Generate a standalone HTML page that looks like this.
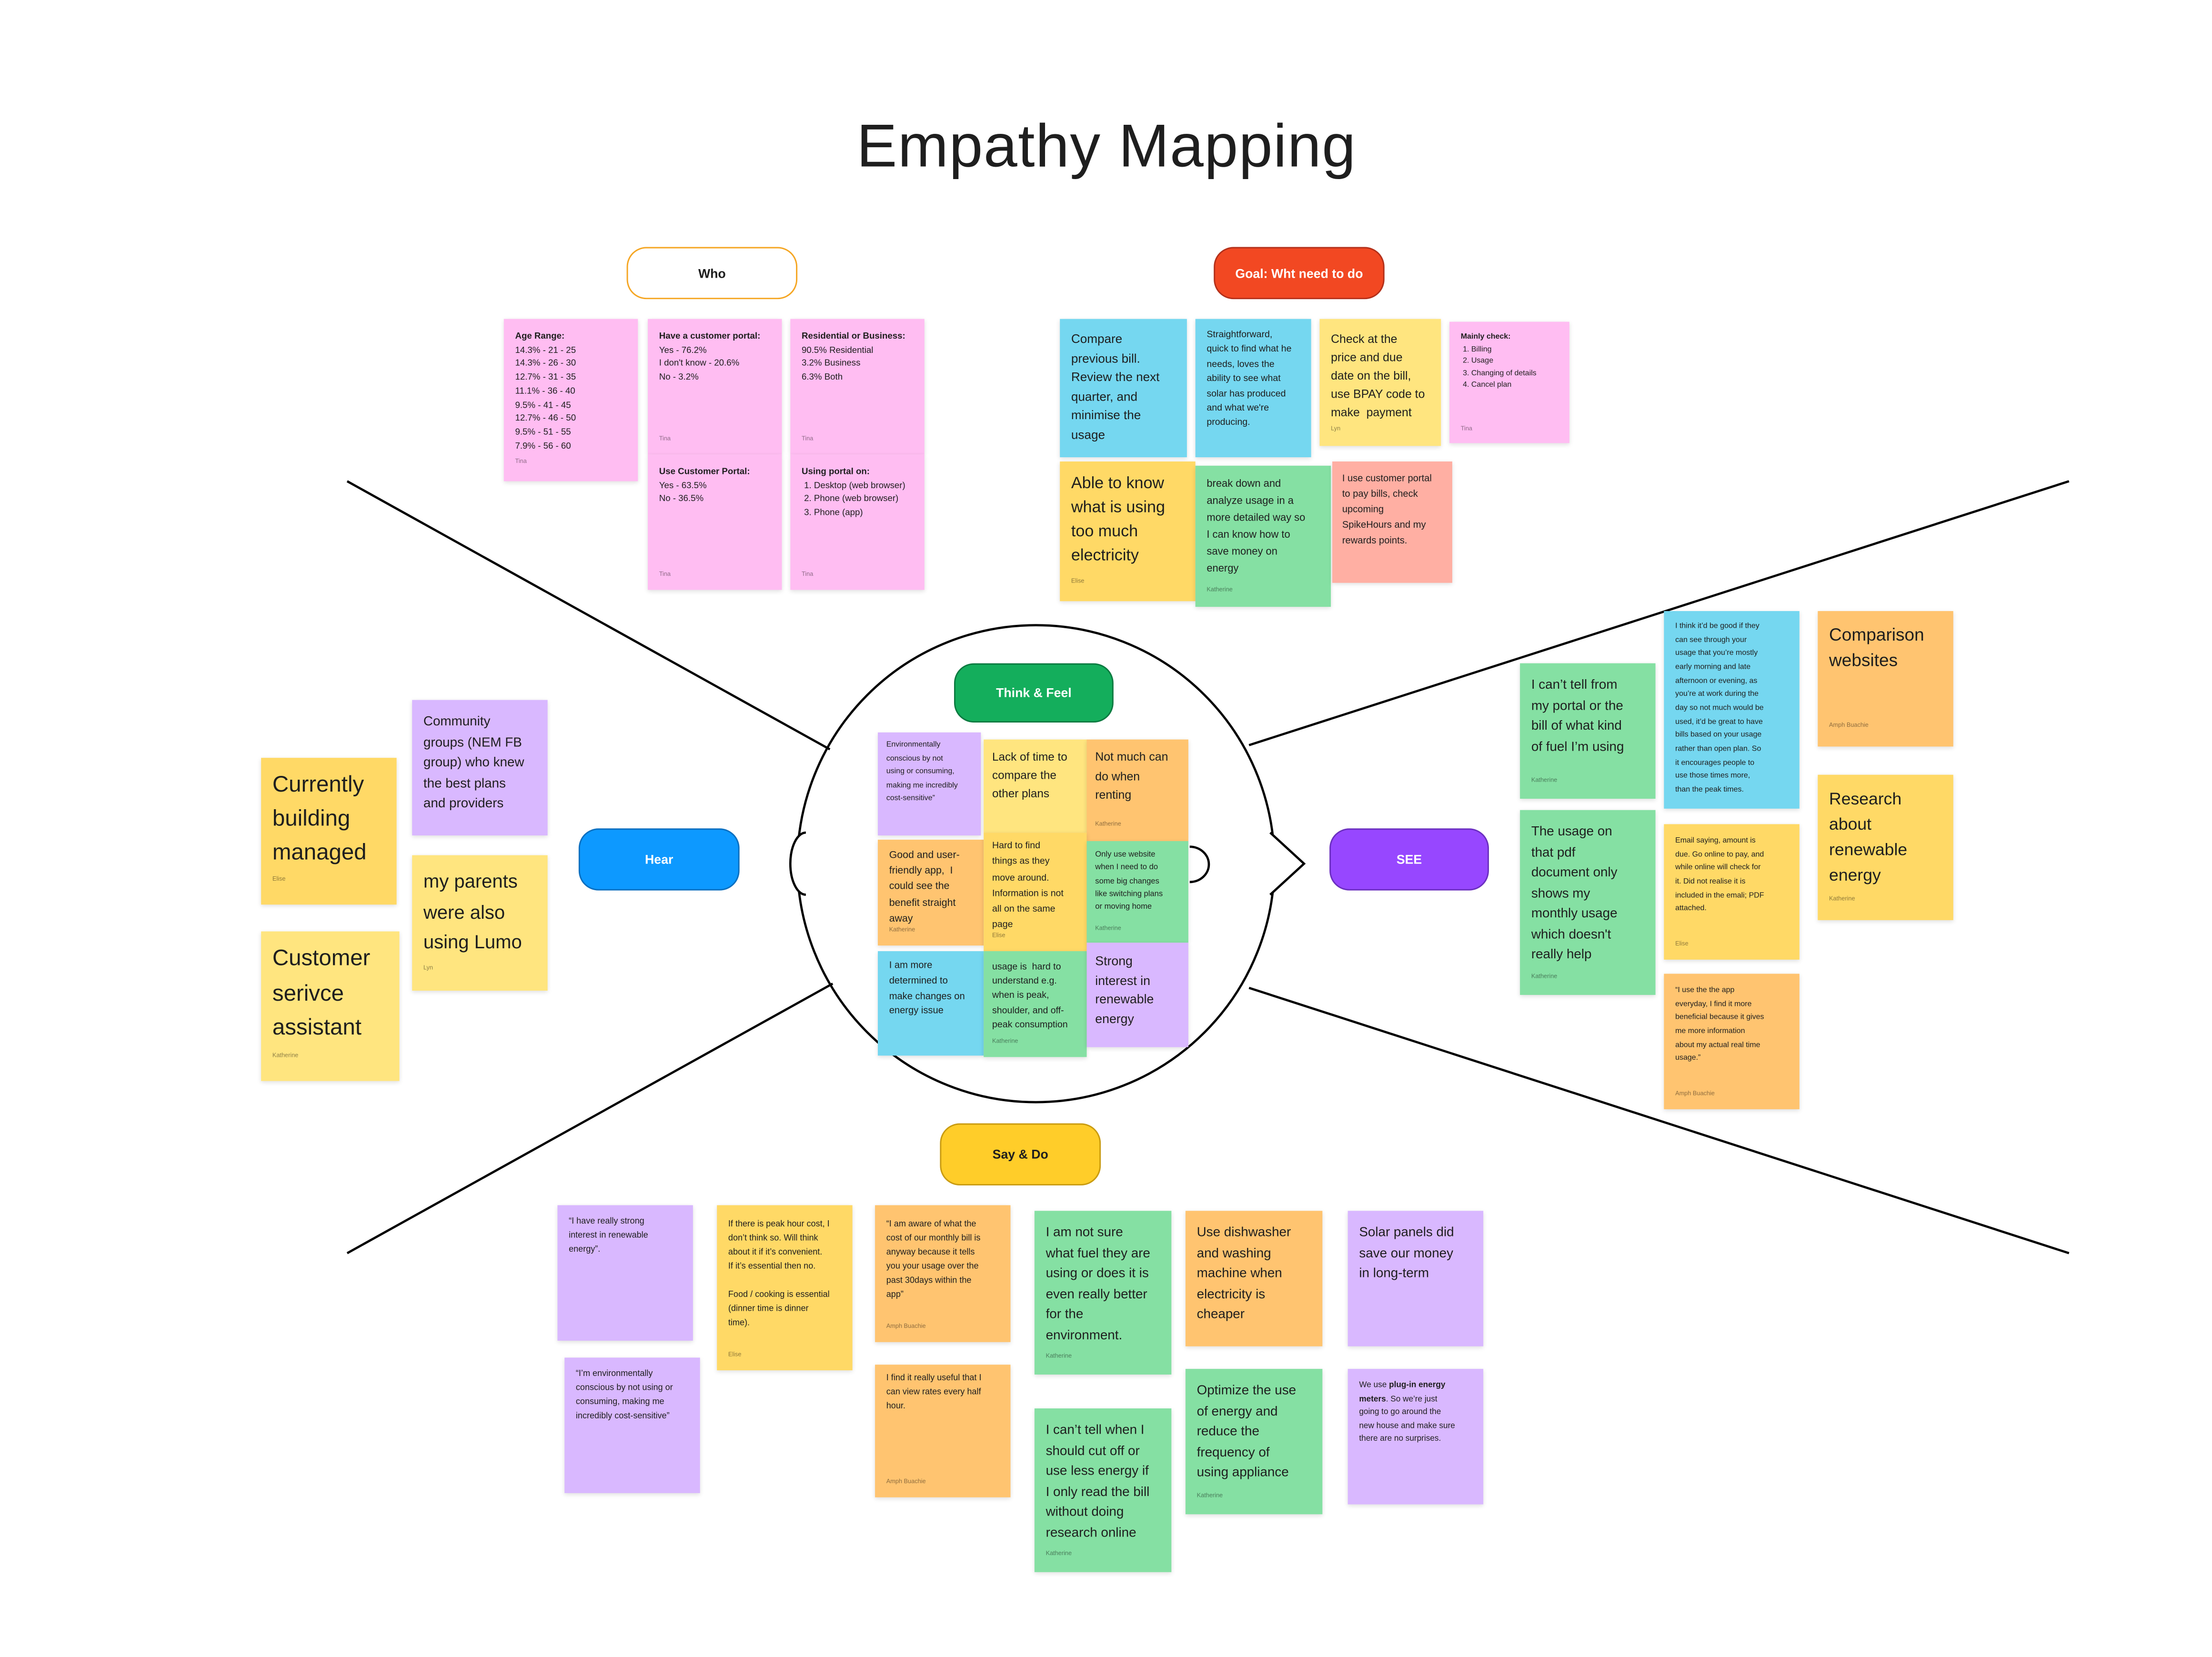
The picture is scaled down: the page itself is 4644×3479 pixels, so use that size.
<!DOCTYPE html>
<html><head><meta charset="utf-8">
<style>
html,body{margin:0;padding:0;background:#fff;}
body{width:4644px;height:3477px;overflow:hidden;}
#w{position:absolute;left:0;top:0;width:1568px;height:1174px;transform:scale(2.963);transform-origin:0 0;font-family:"Liberation Sans",sans-serif;color:#1e1e1e;}
.n{position:absolute;box-sizing:border-box;padding:9px 8px;box-shadow:0 1px 3px rgba(0,0,0,.13);overflow:hidden;}
.a{position:absolute;left:8px;bottom:6px;font-size:4.3px;color:rgba(0,0,0,.45);}
.pk{background:#ffbdf2}.bl{background:#75d7f0}.ly{background:#ffe57f}.yl{background:#ffd966}.or{background:#ffc470}.gr{background:#85e0a3}.pu{background:#d9b8ff}.sa{background:#ffafa3}
.pill{position:absolute;box-sizing:border-box;border-radius:14px;display:flex;align-items:center;justify-content:center;font-weight:bold;font-size:9px;}
b{font-weight:bold}
</style></head><body><div id="w">
<div style="position:absolute;left:0;width:1568px;top:80px;text-align:center;font-size:43px;letter-spacing:0.5px;">Empathy Mapping</div>
<svg width="1548" height="1159" style="position:absolute;left:0;top:0">
<g stroke="#000" stroke-width="1.6" fill="none">
<line x1="246" y1="341" x2="588" y2="531"/>
<line x1="246" y1="888" x2="590" y2="697"/>
<line x1="1466" y1="341" x2="885" y2="528"/>
<line x1="1466" y1="888" x2="885" y2="700"/>
<circle cx="734" cy="612" r="169"/>
<path d="M571 590 A11 22 0 0 0 571 634" fill="#fff"/>
<path d="M843 600 A13 12 0 0 1 843 625"/>
<path d="M900 590 L924 612 L900 634" fill="#fff"/>
</g>
</svg>
<div class="pill" style="left:444px;top:175px;width:121px;height:37px;background:#fff;border:1.5px solid #f5a623;">Who</div>
<div class="pill" style="left:860px;top:175px;width:121px;height:37px;background:#f24822;color:#fff;border:1px solid #b3301a;">Goal: Wht need to do</div>
<div class="pill" style="left:676px;top:470px;width:113px;height:42px;background:#14ae5c;color:#fff;border:1px solid #0b7a40;">Think &amp; Feel</div>
<div class="pill" style="left:410px;top:587px;width:114px;height:44px;background:#0d99ff;color:#fff;border:1px solid #0a6fc0;">Hear</div>
<div class="pill" style="left:942px;top:587px;width:113px;height:44px;background:#9747ff;color:#fff;border:1px solid #6b2fc0;">SEE</div>
<div class="pill" style="left:666px;top:796px;width:114px;height:44px;background:#ffcd29;border:1px solid #c99b10;">Say &amp; Do</div>

<!-- Who -->
<div class="n pk" style="left:357px;top:226px;width:95px;height:115px;font-size:6.3px;line-height:9.7px;padding-top:8px"><b>Age Range:</b><br>14.3% - 21 - 25<br>14.3% - 26 - 30<br>12.7% - 31 - 35<br>11.1% - 36 - 40<br>9.5% - 41 - 45<br>12.7% - 46 - 50<br>9.5% - 51 - 55<br>7.9% - 56 - 60<div class="a" style="bottom:9px">Tina</div></div>
<div class="n pk" style="left:459px;top:226px;width:95px;height:96px;font-size:6.3px;line-height:9.7px;padding-top:8px"><b>Have a customer portal:</b><br>Yes - 76.2%<br>I don't know - 20.6%<br>No - 3.2%<div class="a">Tina</div></div>
<div class="n pk" style="left:459px;top:322px;width:95px;height:96px;font-size:6.3px;line-height:9.7px;padding-top:8px"><b>Use Customer Portal:</b><br>Yes - 63.5%<br>No - 36.5%<div class="a">Tina</div></div>
<div class="n pk" style="left:560px;top:226px;width:95px;height:96px;font-size:6.3px;line-height:9.7px;padding-top:8px"><b>Residential or Business:</b><br>90.5% Residential<br>3.2% Business<br>6.3% Both<div class="a">Tina</div></div>
<div class="n pk" style="left:560px;top:322px;width:95px;height:96px;font-size:6.3px;line-height:9.7px;padding-top:8px"><b>Using portal on:</b><br>&nbsp;1. Desktop (web browser)<br>&nbsp;2. Phone (web browser)<br>&nbsp;3. Phone (app)<div class="a">Tina</div></div>

<!-- Goal -->
<div class="n bl" style="left:751px;top:226px;width:90px;height:98px;font-size:8.8px;line-height:13.6px;padding-top:8px">Compare<br>previous bill.<br>Review the next<br>quarter, and<br>minimise the<br>usage</div>
<div class="n bl" style="left:847px;top:226px;width:82px;height:98px;font-size:6.6px;line-height:10.4px;padding-top:7px">Straightforward,<br>quick to find what he<br>needs, loves the<br>ability to see what<br>solar has produced<br>and what we're<br>producing.</div>
<div class="n ly" style="left:935px;top:226px;width:86px;height:90px;font-size:8.4px;line-height:13px;padding-top:8px">Check at the<br>price and due<br>date on the bill,<br>use BPAY code to<br>make&nbsp; payment<div class="a">Lyn</div></div>
<div class="n pk" style="left:1027px;top:228px;width:85px;height:86px;font-size:5.4px;line-height:8.5px;padding-top:7px"><b>Mainly check:</b><br>&nbsp;1. Billing<br>&nbsp;2. Usage<br>&nbsp;3. Changing of details<br>&nbsp;4. Cancel plan<div class="a">Tina</div></div>
<div class="n yl" style="left:751px;top:327px;width:96px;height:99px;font-size:11.5px;line-height:17px;padding-top:8px">Able to know<br>what is using<br>too much<br>electricity<div class="a">Elise</div></div>
<div class="n gr" style="left:847px;top:330px;width:96px;height:100px;font-size:7.4px;line-height:12px;padding-top:7px">break down and<br>analyze usage in a<br>more detailed way so<br>I can know how to<br>save money on<br>energy<div class="a">Katherine</div></div>
<div class="n sa" style="left:944px;top:327px;width:85px;height:86px;font-size:6.8px;line-height:10.9px;padding-top:8px;padding-left:7px">I use customer portal<br>to pay bills, check<br>upcoming<br>SpikeHours and my<br>rewards points.</div>

<!-- Think & Feel -->
<div class="n pu" style="left:622px;top:519px;width:73px;height:73px;font-size:5.4px;line-height:9.6px;padding:5px 6px">Environmentally<br>conscious by not<br>using or consuming,<br>making me incredibly<br>cost-sensitive”</div>
<div class="n ly" style="left:697px;top:524px;width:73px;height:66px;font-size:8.2px;line-height:13px;padding:6px 6px">Lack of time to<br>compare the<br>other plans</div>
<div class="n or" style="left:770px;top:524px;width:72px;height:72px;font-size:8.4px;line-height:13.5px;padding:6px 6px">Not much can<br>do when<br>renting<div class="a" style="left:6px">Katherine</div></div>
<div class="n or" style="left:622px;top:595px;width:75px;height:75px;font-size:7.2px;line-height:11.2px;padding:5px 8px">Good and user-<br>friendly app,&nbsp; I<br>could see the<br>benefit straight<br>away<div class="a">Katherine</div></div>
<div class="n yl" style="left:697px;top:590px;width:73px;height:84px;font-size:6.6px;line-height:11.3px;padding:4px 6px">Hard to find<br>things as they<br>move around.<br>Information is not<br>all on the same<br>page<div class="a" style="left:6px">Elise</div></div>
<div class="n gr" style="left:770px;top:596px;width:72px;height:72px;font-size:5.6px;line-height:9.3px;padding:6px 6px">Only use website<br>when I need to do<br>some big changes<br>like switching plans<br>or moving home<div class="a" style="left:6px">Katherine</div></div>
<div class="n bl" style="left:622px;top:674px;width:75px;height:74px;font-size:6.8px;line-height:10.8px;padding:6px 8px">I am more<br>determined to<br>make changes on<br>energy issue</div>
<div class="n gr" style="left:697px;top:674px;width:73px;height:75px;font-size:6.6px;line-height:10.2px;padding:7px 6px">usage is&nbsp; hard to<br>understand e.g.<br>when is peak,<br>shoulder, and off-<br>peak consumption<div class="a" style="left:6px">Katherine</div></div>
<div class="n pu" style="left:770px;top:668px;width:72px;height:74px;font-size:9px;line-height:13.5px;padding:7px 6px">Strong<br>interest in<br>renewable<br>energy</div>

<!-- Hear -->
<div class="n pu" style="left:292px;top:496px;width:96px;height:96px;font-size:9.4px;line-height:14.5px;padding-top:8px">Community<br>groups (NEM FB<br>group) who knew<br>the best plans<br>and providers</div>
<div class="n yl" style="left:185px;top:537px;width:96px;height:104px;font-size:16px;line-height:24px;padding-top:8px">Currently<br>building<br>managed<div class="a">Elise</div></div>
<div class="n ly" style="left:292px;top:606px;width:96px;height:96px;font-size:13.5px;line-height:21.5px;padding-top:8px">my parents<br>were also<br>using Lumo<div class="a">Lyn</div></div>
<div class="n ly" style="left:185px;top:660px;width:98px;height:106px;font-size:16px;line-height:24.5px;padding-top:8px">Customer<br>serivce<br>assistant<div class="a">Katherine</div></div>

<!-- SEE -->
<div class="n gr" style="left:1077px;top:470px;width:96px;height:96px;font-size:9.4px;line-height:14.5px;padding-top:8px">I can’t tell from<br>my portal or the<br>bill of what kind<br>of fuel I’m using<div class="a">Katherine</div></div>
<div class="n gr" style="left:1077px;top:574px;width:96px;height:131px;font-size:9.4px;line-height:14.5px;padding-top:8px">The usage on<br>that pdf<br>document only<br>shows my<br>monthly usage<br>which doesn't<br>really help<div class="a">Katherine</div></div>
<div class="n bl" style="left:1179px;top:433px;width:96px;height:140px;font-size:5.4px;line-height:9.65px;padding-top:7px">I think it’d be good if they<br>can see through your<br>usage that you’re mostly<br>early morning and late<br>afternoon or evening, as<br>you’re at work during the<br>day so not much would be<br>used, it’d be great to have<br>bills based on your usage<br>rather than open plan. So<br>it encourages people to<br>use those times more,<br>than the peak times.</div>
<div class="n yl" style="left:1179px;top:584px;width:96px;height:96px;font-size:5.4px;line-height:9.65px;padding-top:8px">Email saying, amount is<br>due. Go online to pay, and<br>while online will check for<br>it. Did not realise it is<br>included in the emali; PDF<br>attached.<div class="a">Elise</div></div>
<div class="n or" style="left:1179px;top:690px;width:96px;height:96px;font-size:5.4px;line-height:9.65px;padding-top:8px">“I use the the app<br>everyday, I find it more<br>beneficial because it gives<br>me more information<br>about my actual real time<br>usage.”<div class="a">Amph Buachie</div></div>
<div class="n or" style="left:1288px;top:433px;width:96px;height:96px;font-size:12.5px;line-height:18px;padding-top:8px">Comparison<br>websites<div class="a">Amph Buachie</div></div>
<div class="n yl" style="left:1288px;top:549px;width:96px;height:103px;font-size:12px;line-height:18px;padding-top:8px">Research<br>about<br>renewable<br>energy<div class="a">Katherine</div></div>

<!-- Say & Do -->
<div class="n pu" style="left:395px;top:854px;width:96px;height:96px;font-size:6.1px;line-height:10px;padding-top:7px">“I have really strong<br>interest in renewable<br>energy”.</div>
<div class="n pu" style="left:400px;top:962px;width:96px;height:96px;font-size:6.1px;line-height:10px;padding-top:7px">“I’m environmentally<br>conscious by not using or<br>consuming, making me<br>incredibly cost-sensitive”</div>
<div class="n yl" style="left:508px;top:854px;width:96px;height:117px;font-size:6.1px;line-height:10px;padding-top:9px">If there is peak hour cost, I<br>don’t think so. Will think<br>about it if it’s convenient.<br>If it’s essential then no.<br><br>Food / cooking is essential<br>(dinner time is dinner<br>time).<div class="a">Elise</div></div>
<div class="n or" style="left:620px;top:854px;width:96px;height:97px;font-size:6.1px;line-height:10px;padding-top:9px">“I am aware of what the<br>cost of our monthly bill is<br>anyway because it tells<br>you your usage over the<br>past 30days within the<br>app”<div class="a">Amph Buachie</div></div>
<div class="n or" style="left:620px;top:967px;width:96px;height:94px;font-size:6.1px;line-height:10px;padding-top:5px">I find it really useful that I<br>can view rates every half<br>hour.<div class="a">Amph Buachie</div></div>
<div class="n gr" style="left:733px;top:858px;width:97px;height:116px;font-size:9.4px;line-height:14.5px;padding-top:8px">I am not sure<br>what fuel they are<br>using or does it is<br>even really better<br>for the<br>environment.<div class="a">Katherine</div></div>
<div class="n gr" style="left:733px;top:998px;width:97px;height:116px;font-size:9.4px;line-height:14.5px;padding-top:8px">I can’t tell when I<br>should cut off or<br>use less energy if<br>I only read the bill<br>without doing<br>research online<div class="a">Katherine</div></div>
<div class="n or" style="left:840px;top:858px;width:97px;height:96px;font-size:9.4px;line-height:14.5px;padding-top:8px">Use dishwasher<br>and washing<br>machine when<br>electricity is<br>cheaper</div>
<div class="n gr" style="left:840px;top:970px;width:97px;height:103px;font-size:9.4px;line-height:14.5px;padding-top:8px">Optimize the use<br>of energy and<br>reduce the<br>frequency of<br>using appliance<div class="a">Katherine</div></div>
<div class="n pu" style="left:955px;top:858px;width:96px;height:96px;font-size:9.4px;line-height:14.5px;padding-top:8px">Solar panels did<br>save our money<br>in long-term</div>
<div class="n pu" style="left:955px;top:970px;width:96px;height:96px;font-size:5.8px;line-height:9.6px;padding-top:8px">We use <b>plug-in energy<br>meters</b>. So we’re just<br>going to go around the<br>new house and make sure<br>there are no surprises.</div>
</div></body></html>
